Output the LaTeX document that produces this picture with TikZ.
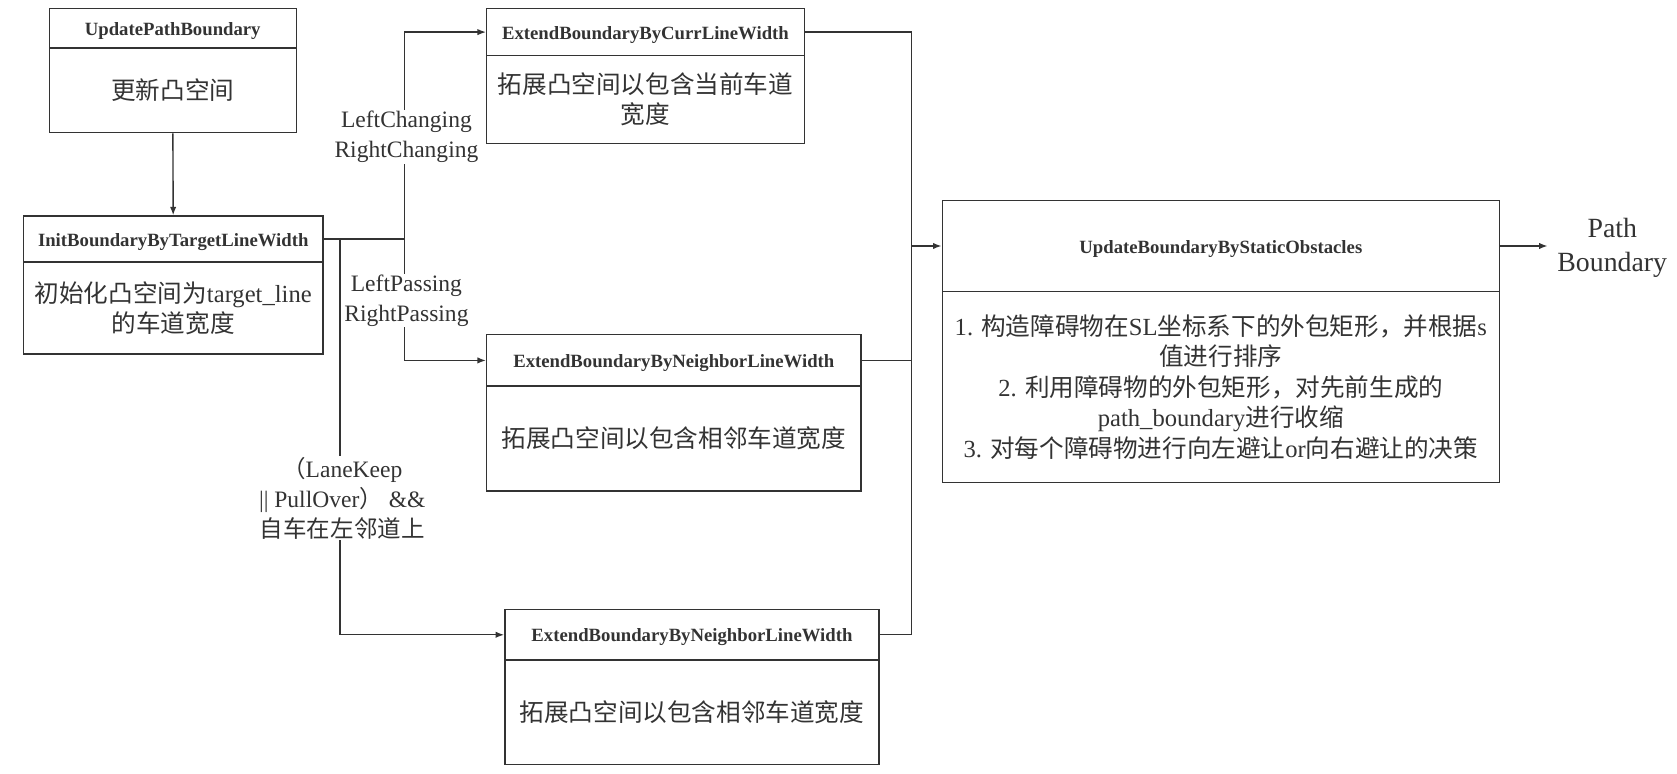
\documentclass[tikz,border=0pt]{standalone}
\usepackage{fontspec}
\setmainfont{Liberation Serif}
\newfontfamily\cjk{Noto Sans CJK SC}
\usetikzlibrary{arrows.meta}
\definecolor{ink}{HTML}{333333}
\begin{document}
\begin{tikzpicture}[x=1pt,y=-1pt,
  box/.style={draw=ink, line width=1.3pt, inner sep=0pt, text=ink, align=center},
  headbox/.style={box, text height=17pt, text depth=3.8pt, font=\bfseries\fontsize{17.5}{21}\selectfont},
  bodybox/.style={box, font=\fontsize{23}{28.5}\selectfont},
  flow/.style={draw=ink, line width=1.3pt},
  arr/.style={flow, -{Latex[length=8pt,width=6pt]}},
  cond/.style={fill=white, text=ink, align=center, inner sep=1pt, font=\fontsize{22}{28}\selectfont},
]
\useasboundingbox (0,0) rectangle (1568,723);

% UpdatePathBoundary
\node[headbox, minimum width=231pt, minimum height=37pt] (upbH) at (161.5,26.5) {UpdatePathBoundary};
\node[bodybox, minimum width=231pt, minimum height=79pt] (upbB) at (161.5,84.5) {\cjk 更新凸空间};

% InitBoundaryByTargetLineWidth
\node[headbox, minimum width=280pt, minimum height=43pt] (initH) at (162,223.5) {InitBoundaryByTargetLineWidth};
\node[bodybox, minimum width=280pt, minimum height=86pt] (initB) at (162,288) {{\cjk 初始化凸空间为}target\_line\\{\cjk 的车道宽度}};

% ExtendBoundaryByCurrLineWidth
\node[headbox, minimum width=297pt, minimum height=44pt] (currH) at (603.5,30) {ExtendBoundaryByCurrLineWidth};
\node[bodybox, minimum width=297pt, minimum height=82pt] (currB) at (603.5,93) {\cjk 拓展凸空间以包含当前车道\\\cjk 宽度};

% ExtendBoundaryByNeighborLineWidth (passing)
\node[headbox, minimum width=350pt, minimum height=48pt] (nbaH) at (630,337) {ExtendBoundaryByNeighborLineWidth};
\node[bodybox, minimum width=350pt, minimum height=98pt] (nbaB) at (630,410) {\cjk 拓展凸空间以包含相邻车道宽度};

% ExtendBoundaryByNeighborLineWidth (lane keep / pull over)
\node[headbox, minimum width=350pt, minimum height=47pt] (nbbH) at (647,593.5) {ExtendBoundaryByNeighborLineWidth};
\node[bodybox, minimum width=350pt, minimum height=98pt] (nbbB) at (647,666) {\cjk 拓展凸空间以包含相邻车道宽度};

% UpdateBoundaryByStaticObstacles
\node[headbox, minimum width=521pt, minimum height=85pt] (statH) at (1141.5,230) {UpdateBoundaryByStaticObstacles};
\node[bodybox, minimum width=521pt, minimum height=178.5pt] (statB) at (1141.5,361.75)
  {1. {\cjk 构造障碍物在}SL{\cjk 坐标系下的外包矩形，并根据}s\\
   {\cjk 值进行排序}\\
   2. {\cjk 利用障碍物的外包矩形，对先前生成的}\\
   path\_boundary{\cjk 进行收缩}\\
   3. {\cjk 对每个障碍物进行向左避让}or{\cjk 向右避让的决策}};

% output
\node[text=ink, align=center, inner sep=0pt, anchor=west, font=\fontsize{26}{32}\selectfont] (out) at (1456,232) {Path\\Boundary};

% junction points
\coordinate (jL) at (378,223.5);
\coordinate (jK) at (318,223.5);
\coordinate (jR) at (852,230);

% connectors
\draw[arr] (upbB) -- (initH);
\draw[flow] (initH.east) -- (jL);
\draw[arr] (jL) |- (currH.west);
\draw[arr] (jL) |- (nbaH.west);
\draw[arr] (jK) |- (nbbH.west);
\draw[flow] (currH.east) -| (jR);
\draw[flow] (nbaH.east) -| (jR);
\draw[flow] (nbbH.east) -| (jR);
\draw[arr] (jR) -- (statH.west);
\draw[arr] (statH.east) -- ([xshift=-9pt]statH.east -| out.west);

% branch conditions
\node[cond] (c1) at (380,128) {LeftChanging\\RightChanging};
\node[cond] (c2) at (380,281) {LeftPassing\\RightPassing};
\node[cond] (c3) at (320,466) {{\cjk （}LaneKeep\\|| PullOver{\cjk ）} \&\&\\{\cjk 自车在左邻道上}};
\end{tikzpicture}
\end{document}
